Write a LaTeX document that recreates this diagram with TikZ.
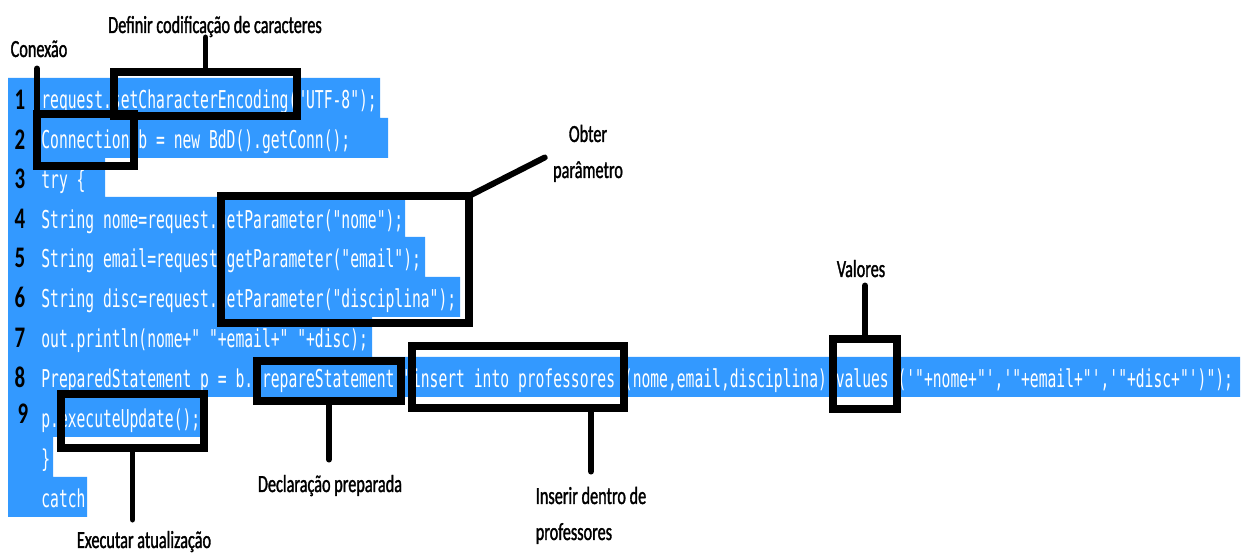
\documentclass[tikz,border=0pt]{standalone}
\usepackage{fontspec}
\newfontfamily\codefont{DejaVu Sans Mono}[FakeStretch=0.596,Ligatures=TeXOff]
\newfontfamily\labelfont{Carlito}[FakeStretch=0.66,FakeBold=1.3]
\newfontfamily\numfont{Carlito}[FakeStretch=0.7]
\newcommand\codesize{\fontsize{14pt}{16pt}\selectfont}
\newcommand\labelsize{\fontsize{14pt}{20.5pt}\selectfont}
\newcommand\numsize{\fontsize{17pt}{19pt}\selectfont}
\definecolor{selblue}{RGB}{51,153,255}

\begin{document}
\begin{tikzpicture}[
  x=0.2mm, y=-0.2mm,
  code/.style={anchor=base west, inner sep=0, text=white, font=\codefont\codesize},
  lnum/.style={anchor=base, inner sep=0, font=\numfont\bfseries\numsize},
  hlbox/.style={draw=black, line width=4.5pt, inner sep=0, outer sep=0},
  lbl/.style={anchor=base, inner sep=0, font=\labelfont\labelsize},
  lead/.style={draw=black, line width=3.4pt, line cap=round}
]
\useasboundingbox (0,0) rectangle (1247,557);

% selection
\fill[selblue] (8,78) rectangle (380,118) (8,118) rectangle (388,158)
  (8,158) rectangle (105,197) (8,197) rectangle (405,237)
  (8,237) rectangle (425,277) (8,277) rectangle (460,317)
  (8,317) rectangle (372,357) (8,357) rectangle (1240,397)
  (8,397) rectangle (203,437) (8,437) rectangle (53,477)
  (8,477) rectangle (87,517);

% code lines
\node[code] (l1) at (41,109) {request.setCharacterEncoding("UTF-8");};
\node[code] (l2) at (41,149) {Connection b = new BdD().getConn();};
\node[code] (l3) at (41,189) {try \{};
\node[code] (l4) at (41,229) {String nome=request.getParameter("nome");};
\node[code] (l5) at (41,268) {String email=request.getParameter("email");};
\node[code] (l6) at (41,308) {String disc=request.getParameter("disciplina");};
\node[code] (l7) at (41,348) {out.println(nome+" "+email+" "+disc);};
\node[code] (l8) at (41,388) {PreparedStatement p = b.prepareStatement("insert into professores (nome,email,disciplina) values ('"+nome+"','"+email+"','"+disc+"')");};
\node[code] (l9) at (41,428) {p.executeUpdate();};
\node[code] (l10) at (41,468) {\}};
\node[code] (l11) at (41,508) {catch};

% line numbers
\node[lnum] (n1) at (20,110) {1};
\node[lnum] (n2) at (20,150) {2};
\node[lnum] (n3) at (20,189) {3};
\node[lnum] (n4) at (20,229) {4};
\node[lnum] (n5) at (20,268) {5};
\node[lnum] (n6) at (20,308) {6};
\node[lnum] (n7) at (20,348) {7};
\node[lnum] (n8) at (20,388) {8};
\node[lnum] (n9) at (23,424) {9};

% boxes
\node[hlbox, minimum width=36.6mm, minimum height=8.8mm] (encbox) at (205.5,94) {};
\node[hlbox, minimum width=19.4mm, minimum height=10.4mm] (conbox) at (85.5,140) {};
\node[hlbox, minimum width=49.6mm, minimum height=25.4mm] (parbox) at (345,259.5) {};
\node[hlbox, minimum width=28.8mm, minimum height=8mm] (prepbox) at (329,381) {};
\node[hlbox, minimum width=28.6mm, minimum height=10.8mm] (execbox) at (132.5,421) {};
\node[hlbox, minimum width=42.4mm, minimum height=12.4mm] (insbox) at (518,377) {};
\node[hlbox, minimum width=12.8mm, minimum height=14mm] (valbox) at (865,374) {};

% labels
\node[lbl] (encl) at (215,33) {Definir codificação de caracteres};
\node[lbl] (conl) at (39,57) {Conexão};
\node[lbl, align=center] (parl) at (588,178) {Obter\\parâmetro};
\node[lbl] (decl) at (330,492) {Declaração preparada};
\node[lbl] (execl) at (144,548) {Executar atualização};
\node[lbl, align=left] (insl) at (591,540) {Inserir dentro de\\professores};
\node[lbl] (vall) at (861,277) {Valores};

% leads
\draw[lead] (encbox.north) -- (encbox.north |- encl.south);
\draw[lead, shorten >=2.2mm] (conbox.north west) -- (conbox.north west |- conl.south);
\draw[lead, shorten >=1.8mm] (parbox.north east) -- (parl.west);
\draw[lead, shorten >=3mm] (prepbox.south) -- (prepbox.south |- decl.north);
\draw[lead, shorten >=2.2mm] (execbox.south) -- (execbox.south |- execl.north);
\draw[lead, shorten >=3mm] (insbox.south -| insl.north) -- (insl.north);
\draw[lead, shorten >=1.6mm] (valbox.north) -- (valbox.north |- vall.south);
\end{tikzpicture}
\end{document}
